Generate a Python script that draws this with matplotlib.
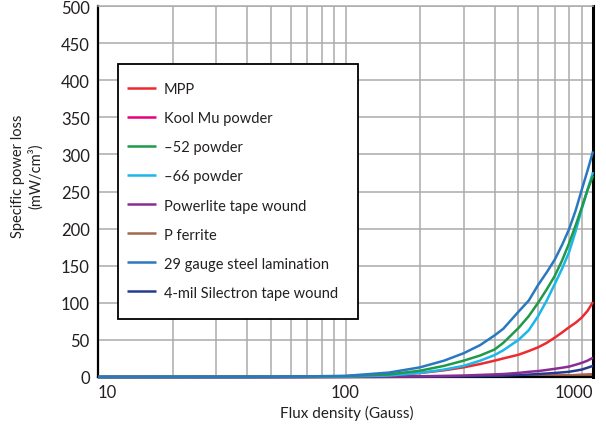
import matplotlib
matplotlib.use("Agg")
import matplotlib.pyplot as plt
from matplotlib.patches import Rectangle
from matplotlib.ticker import FixedLocator, NullFormatter

plt.rcParams["font.family"] = ["Lato", "DejaVu Sans"]

# flux density (Gauss) and specific power loss (mW/cm3)
flux = [10, 50, 100, 150, 200, 250, 300, 350, 400, 434, 500, 550, 600, 650,
        700, 750, 800, 850, 900, 950, 1000]

mpp = [0, 0.2, 1, 3, 5.4, 9, 13, 17.5, 22, 25, 30, 35, 40, 46, 53, 60, 67,
       73, 80, 89, 101]
kool_mu = [0, 0, 0.1, 0.2, 0.3, 0.4, 0.5, 0.6, 0.7, 0.8, 1, 1.2, 1.4, 1.6,
           1.8, 2, 2.2, 2.5, 2.8, 3.1, 3.5]
p52 = [0, 0.2, 1.2, 3.5, 8.5, 15, 22, 29, 37, 46, 66, 82, 100, 118, 136, 157,
       180, 204, 228, 252, 271]
p66 = [0, 0.1, 0.6, 2, 5.4, 10, 15, 22, 29.5, 36, 50, 63, 82, 103, 125, 146,
       168, 196, 226, 252, 276]
powerlite = [0, 0, 0.3, 0.6, 1, 1.5, 2, 2.8, 3.5, 4, 5.5, 7, 8, 9.5, 11, 12.5,
             14, 16.5, 19, 22, 26]
p_ferrite = [0, 0, 0.1, 0.2, 0.3, 0.4, 0.5, 0.6, 0.7, 0.8, 1.2, 1.4, 1.5, 1.7,
             1.8, 2, 2.2, 2.5, 2.7, 3, 3.2]
steel29 = [0, 0.3, 1.5, 6, 13, 22, 32, 43, 56, 65, 88, 103, 124, 141, 158,
           178, 199, 224, 252, 278, 304]
silectron = [0, 0, 0.2, 0.3, 0.5, 0.7, 1, 1.3, 1.6, 1.8, 2.7, 3.3, 4, 4.7,
             5.4, 6.2, 7, 8.5, 10, 12.5, 15]

series = [
    ("MPP", mpp, "#ee2a2e", 6),
    ("Kool Mu powder", kool_mu, "#e6007e", 1),
    ("\u201352 powder", p52, "#1f9a4a", 7),
    ("\u201366 powder", p66, "#1ab7ea", 6.5),
    ("Powerlite tape wound", powerlite, "#8b2c94", 4),
    ("P ferrite", p_ferrite, "#a0694a", 2),
    ("29 gauge steel lamination", steel29, "#2a78c0", 8),
    ("4-mil Silectron tape wound", silectron, "#283a8f", 3),
]

yticks = list(range(0, 501, 50))
xticks = [10, 100, 1000]
xtick_labels = ["10", "100", "1000"]
minor_x = [20, 30, 40, 50, 60, 70, 80, 90, 200, 300, 400, 500, 600, 700, 800, 900]

TXT = "#231f20"
GRID = "#ababab"

fig = plt.figure(figsize=(6.06, 4.27), dpi=100)
ax = fig.add_axes([98 / 606, 49 / 427, 495 / 606, 371 / 427])

for name, vals, col, z in series:
    ax.plot(flux, vals, color=col, lw=1.8, label=name, zorder=z, clip_on=False,
            solid_capstyle="butt")

ax.set_xscale("log")
ax.set_xlim(10, 1000)
ax.set_ylim(0, 500)

ax.xaxis.set_major_locator(FixedLocator(xticks))
ax.xaxis.set_minor_locator(FixedLocator(minor_x))
ax.xaxis.set_minor_formatter(NullFormatter())
ax.set_xticklabels(xtick_labels)
ax.set_yticks(yticks)
ax.grid(True, which="both", color=GRID, lw=1.1, zorder=0)
ax.set_axisbelow(True)
ax.tick_params(which="both", length=0, labelsize=12, colors=TXT)
ax.tick_params(axis="y", pad=6)
ax.tick_params(axis="x", pad=5)
labs = ax.get_xticklabels()
labs[0].set_ha("left")
labs[-1].set_ha("right")

ax.spines["top"].set_color(GRID)
ax.spines["top"].set_linewidth(1.1)
for s in ("left", "bottom", "right"):
    ax.spines[s].set_color("black")
ax.spines["left"].set_linewidth(1.6)
ax.spines["bottom"].set_linewidth(1.6)
ax.spines["right"].set_linewidth(2.2)

# legend: square black frame drawn separately, entries placed inside it
ax.add_patch(Rectangle((0.0404, 0.1563), 0.4849, 0.6874, transform=ax.transAxes,
                       facecolor="white", edgecolor="black", lw=1.3, zorder=9,
                       clip_on=False))
leg = ax.legend(loc="upper left", bbox_to_anchor=(0.058, 0.794), fontsize=10.5,
                frameon=False, handlelength=2.0, handletextpad=0.55,
                labelspacing=1.03, borderpad=0, borderaxespad=0)
for t in leg.get_texts():
    t.set_color(TXT)
leg.set_zorder(10)

fig.text(347 / 606, 1 - 413 / 427, "Flux density (Gauss)", ha="center", va="center",
         fontsize=11, color=TXT)
fig.text(27 / 606, 1 - 176 / 427, "Specific power loss\n(mW/cm\u00b3)", ha="center",
         va="center", rotation=90, fontsize=10.5, linespacing=1.2, color=TXT)

fig.savefig("out.png", dpi=100, facecolor="white")
